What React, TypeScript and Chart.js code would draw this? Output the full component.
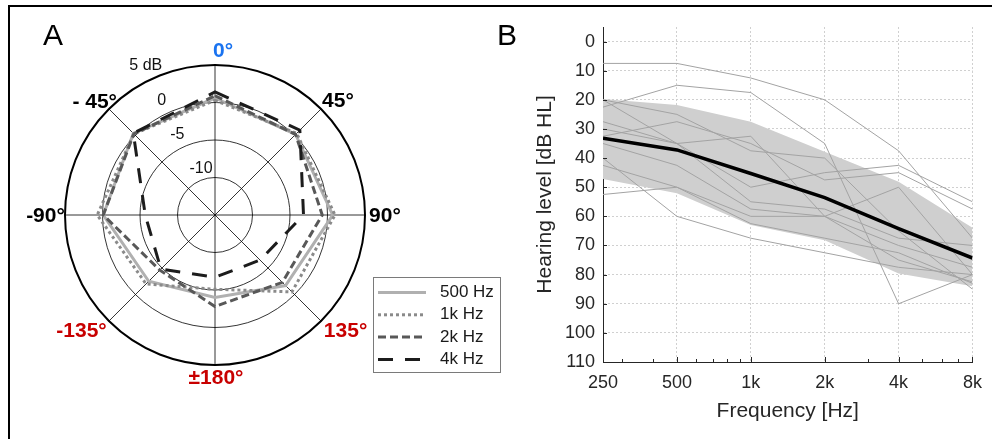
import React, { useEffect, useRef } from "react";
import { Chart, registerables } from "chart.js";

Chart.register(...registerables);

const FONT = "'Liberation Sans', Arial, Helvetica, sans-serif";
Chart.defaults.font.family = FONT;

// ---------- Panel A: directional response (dB) ----------
const DIRECTION_LABELS = ["0°", "45°", "90°", "135°", "±180°", "-135°", "-90°", "- 45°"];
const DIRECTION_COLORS = ["#1a73f0", "#000000", "#000000", "#c80000", "#c80000", "#c80000", "#000000", "#000000"];
const RING_VALUES = [5, 0, -5, -10];
const RING_LABELS = ["5 dB", "0", "-5", "-10"];
const POLAR_NAMES = ["500 Hz", "1k Hz", "2k Hz", "4k Hz"];
const POLAR_500 = [0.6, 0.2, 0.7, -1.7, -4.0, -2.5, -0.1, 0.4];
const POLAR_1K = [0.3, 0.4, 1.0, -0.5, -5.1, -2.0, 0.7, 0.3];
const POLAR_2K = [0.9, 0.2, -0.7, -2.3, -2.8, -4.6, -0.1, 0.3];
const POLAR_4K = [1.4, 1.0, -3.2, -6.5, -6.7, -4.8, -5.7, 0.4];

// ---------- Panel B: audiograms ----------
const FREQS = [250, 500, 1000, 2000, 4000, 8000];
const FREQ_LABELS = ["250", "500", "1k", "2k", "4k", "8k"];
const MINOR_FREQS = [300, 400, 600, 700, 800, 900, 3000, 5000, 6000, 7000];
const HL_TICKS = [0, 10, 20, 30, 40, 50, 60, 70, 80, 90, 100, 110];
const MEAN_HL = [33.2, 37.2, 45.3, 53.6, 64.2, 74.3];
const BAND_UPPER = [19.7, 21.8, 27.5, 37.8, 48.1, 63.9];
const BAND_LOWER = [47.2, 52.1, 63.0, 68.2, 79.6, 84.0];
const S1 = [7.5, 7.5, 12.5, 20, 37.5, 67.5];
const S2 = [22.5, 15, 17.5, 35, 90, 80];
const S3 = [20, 25, 37.5, 40, 65, 85];
const S4 = [20, 35, 32.5, 60, 75, 82.5];
const S5 = [27.5, 35, 50, 45, 42.5, 55];
const S6 = [32.5, 27.5, 35, 47.5, 45, 57.5];
const S7 = [35, 42.5, 57.5, 60, 50, 80];
const S8 = [40, 60, 67.5, 72.5, 77.5, 80];
const S9 = [42.5, 50, 60, 60, 70, 77.5];
const S10 = [52.5, 50, 62.5, 67.5, 72.5, 83];
const S11 = [30, 35, 55, 57.5, 67.5, 70];
const SUBJECTS = [S1, S2, S3, S4, S5, S6, S7, S8, S9, S10, S11];

const toXY = (vals: number[]) => FREQS.map((f, i) => ({ x: f, y: vals[i] }));

// label placement styling (offsets relative to library geometry)
const DIR_OFFSETS = [[8, 2], [5.6, 3.9], [4, 1], [13.2, -0.9], [1, -2.5], [-16.1, -0.9], [-3.5, 1], [-2.9, 4.1]];
const RING_PLACEMENT = [[14.3, -24.9], [13.8, -25], [13.4, -25.2], [11.3, -16.7]];

const polarDecor = {
  id: "polarDecor",
  afterDraw(chart: any) {
    const s = chart.scales.r;
    const ctx = chart.ctx as CanvasRenderingContext2D;
    const R = s.getDistanceFromCenterForValue(s.max);
    ctx.save();
    ctx.textAlign = "center";
    ctx.textBaseline = "middle";
    ctx.font = `bold 21px ${FONT}`;
    DIRECTION_LABELS.forEach((t, i) => {
      const p = s.getPointPosition(i, R + 16);
      ctx.fillStyle = DIRECTION_COLORS[i];
      ctx.fillText(t, p.x + DIR_OFFSETS[i][0], p.y + DIR_OFFSETS[i][1]);
    });
    ctx.font = `16px ${FONT}`;
    ctx.fillStyle = "#111";
    RING_VALUES.forEach((v, i) => {
      const d = s.getDistanceFromCenterForValue(v) + RING_PLACEMENT[i][0];
      const a = (RING_PLACEMENT[i][1] * Math.PI) / 180;
      ctx.fillText(RING_LABELS[i], s.xCenter + Math.sin(a) * d, s.yCenter - Math.cos(a) * d);
    });
    // legend
    const lx = 373, ly = 277, lw = 127, lh = 95;
    ctx.fillStyle = "#fff";
    ctx.fillRect(lx, ly, lw, lh);
    ctx.strokeStyle = "#7a7a7a";
    ctx.lineWidth = 1;
    ctx.strokeRect(lx + 0.5, ly + 0.5, lw, lh);
    ctx.font = `17px ${FONT}`;
    ctx.textAlign = "left";
    chart.data.datasets.forEach((ds: any, i: number) => {
      const y = 292.5 + i * 22.3;
      ctx.strokeStyle = ds.borderColor;
      ctx.lineWidth = ds.borderWidth;
      ctx.setLineDash(ds.borderDash || []);
      ctx.beginPath();
      ctx.moveTo(378, y);
      ctx.lineTo(426, y);
      ctx.stroke();
      ctx.setLineDash([]);
      ctx.fillStyle = "#1a1a1a";
      ctx.fillText(ds.label, 440, y);
    });
    ctx.restore();
  },
};

const inwardTicks = {
  id: "inwardTicks",
  afterDraw(chart: any) {
    const ctx = chart.ctx as CanvasRenderingContext2D;
    const { left, bottom } = chart.chartArea;
    const xs = chart.scales.x;
    const ys = chart.scales.y;
    ctx.save();
    ctx.strokeStyle = "#262626";
    ctx.lineWidth = 1;
    ctx.beginPath();
    FREQS.forEach((f) => {
      const px = Math.round(xs.getPixelForValue(f)) + 0.5;
      ctx.moveTo(px, bottom);
      ctx.lineTo(px, bottom - 5);
    });
    MINOR_FREQS.forEach((f) => {
      const px = Math.round(xs.getPixelForValue(f)) + 0.5;
      ctx.moveTo(px, bottom);
      ctx.lineTo(px, bottom - 3);
    });
    HL_TICKS.forEach((v) => {
      const py = Math.round(ys.getPixelForValue(v)) + 0.5;
      ctx.moveTo(left, py);
      ctx.lineTo(left + 4, py);
    });
    ctx.stroke();
    ctx.restore();
  },
};

export default function App() {
  const refA = useRef<HTMLCanvasElement>(null);
  const refB = useRef<HTMLCanvasElement>(null);

  useEffect(() => {
    const polarSets = [POLAR_500, POLAR_1K, POLAR_2K, POLAR_4K];
    const polarStyles = [
      { color: "#b0b0b0", dash: [] as number[] },
      { color: "#8a8a8a", dash: [3, 3] },
      { color: "#585858", dash: [8, 4] },
      { color: "#1c1c1c", dash: [15, 12] },
    ];
    const chartA = new Chart(refA.current as HTMLCanvasElement, {
      type: "radar",
      data: {
        labels: DIRECTION_LABELS,
        datasets: polarSets.map((d, i) => ({
          label: POLAR_NAMES[i],
          data: d,
          borderColor: polarStyles[i].color,
          borderDash: polarStyles[i].dash,
          borderWidth: 3,
          pointRadius: 0,
          fill: false,
          tension: 0,
          order: 4 - i,
        })),
      },
      options: {
        animation: false,
        responsive: false,
        maintainAspectRatio: false,
        layout: { padding: { left: 65, top: 65, right: 139, bottom: 73 } },
        plugins: { legend: { display: false }, tooltip: { enabled: false } },
        scales: {
          r: {
            min: -15,
            max: 5,
            beginAtZero: false,
            ticks: { display: false, stepSize: 5 },
            pointLabels: { display: false },
            grid: {
              circular: true,
              color: "#000",
              lineWidth: (c: any) => (c.tick && c.tick.value === 5 ? 2 : 0.8),
            },
            angleLines: { display: true, color: "#000", lineWidth: 0.8 },
          },
        },
      } as any,
      plugins: [polarDecor],
    });

    const gridColor = (edge: number) => (c: any) =>
      c.tick && c.tick.value === edge ? "rgba(0,0,0,0)" : "#d0d0d0";

    const chartB = new Chart(refB.current as HTMLCanvasElement, {
      type: "line",
      data: {
        datasets: [
          { label: "Mean", data: toXY(MEAN_HL), borderColor: "#000", borderWidth: 3.5, pointRadius: 0, fill: false },
          ...SUBJECTS.map((s, i) => ({
            label: `S${i + 1}`,
            data: toXY(s),
            borderColor: "#a3a3a3",
            borderWidth: 1,
            pointRadius: 0,
            fill: false,
          })),
          { label: "Band upper", data: toXY(BAND_UPPER), borderWidth: 0, borderColor: "rgba(0,0,0,0)", pointRadius: 0, fill: false },
          { label: "Band lower", data: toXY(BAND_LOWER), borderWidth: 0, borderColor: "rgba(0,0,0,0)", pointRadius: 0, fill: "-1", backgroundColor: "#cfcfcf" },
        ],
      },
      options: {
        animation: false,
        responsive: false,
        maintainAspectRatio: false,
        layout: { padding: { top: 27, right: 17, left: 0, bottom: 0 } },
        plugins: { legend: { display: false }, tooltip: { enabled: false } },
        scales: {
          x: {
            type: "logarithmic",
            min: 250,
            max: 8000,
            afterBuildTicks: (s: any) => {
              s.ticks = FREQS.map((v) => ({ value: v }));
            },
            afterFit: (s: any) => {
              s.height = 77;
            },
            ticks: {
              autoSkip: false,
              maxRotation: 0,
              padding: 10,
              color: "#262626",
              font: { size: 18, family: FONT },
              callback: (v: any) => {
                const i = FREQS.indexOf(Number(v));
                return i >= 0 ? FREQ_LABELS[i] : "";
              },
            },
            grid: { color: gridColor(250), drawTicks: false, lineWidth: 1 },
            border: { display: true, color: "#262626", width: 1, dash: [2, 2] },
            title: {
              display: true,
              text: "Frequency [Hz]",
              color: "#262626",
              font: { size: 21, family: FONT },
              padding: { top: 0, bottom: 15 },
            },
          },
          y: {
            type: "linear",
            reverse: true,
            min: -5,
            max: 110,
            afterBuildTicks: (s: any) => {
              s.ticks = HL_TICKS.map((v) => ({ value: v }));
            },
            afterFit: (s: any) => {
              s.width = 103;
            },
            ticks: { padding: 8, color: "#262626", font: { size: 18, family: FONT } },
            grid: { color: gridColor(110), drawTicks: false, lineWidth: 1 },
            border: { display: true, color: "#262626", width: 1, dash: [2, 2] },
            title: {
              display: true,
              text: "Hearing level [dB HL]",
              color: "#262626",
              font: { size: 21, family: FONT },
              padding: { top: 33, bottom: 0 },
            },
          },
        },
      } as any,
      plugins: [inwardTicks],
    });

    return () => {
      chartA.destroy();
      chartB.destroy();
    };
  }, []);

  return (
    <div
      style={{
        position: "fixed",
        left: 0,
        top: 0,
        width: 992,
        height: 439,
        background: "#fff",
        overflow: "hidden",
        fontFamily: FONT,
      }}
    >
      <canvas ref={refA} width={505} height={439} style={{ position: "absolute", left: 0, top: 0 }} />
      <canvas ref={refB} width={492} height={439} style={{ position: "absolute", left: 500, top: 0 }} />
      <div style={{ position: "absolute", left: 8, top: 5, width: 984, height: 2, background: "#000" }} />
      <div style={{ position: "absolute", left: 8, top: 5, width: 2, height: 434, background: "#000" }} />
      <div style={{ position: "absolute", left: 43, top: 20, fontSize: 30, lineHeight: "30px", color: "#000" }}>A</div>
      <div style={{ position: "absolute", left: 497, top: 20, fontSize: 30, lineHeight: "30px", color: "#000" }}>B</div>
    </div>
  );
}
